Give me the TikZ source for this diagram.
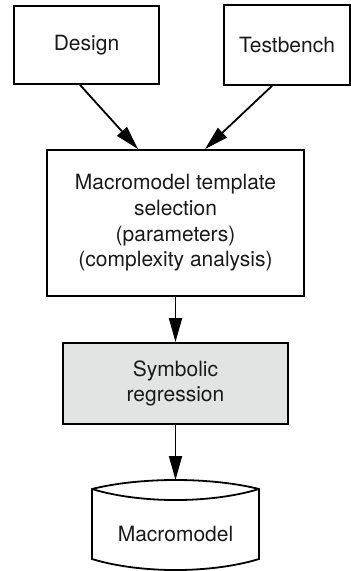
\documentclass[tikz,border=0pt]{standalone}
\usepackage{fontspec}
\setmainfont{TeX Gyre Heros}
\usetikzlibrary{arrows.meta}
\definecolor{procfill}{HTML}{E2E4E4}
\definecolor{ink}{HTML}{1A1A1A}
\tikzset{
  box/.style={draw=black, line width=1.8pt, align=center, inner sep=0pt, text=ink},
  flow/.style={line width=1.8pt, -{Triangle[length=24pt,width=13pt]}},
  store/.style={draw=black, line width=1.8pt}
}
\begin{document}
\begin{tikzpicture}[x=1pt, y=-1pt, font=\fontsize{21}{25.7}\selectfont]
\useasboundingbox (0,0) rectangle (351,571);

% inputs
\node[box, minimum width=145pt, minimum height=78pt] (d) at (86.5,45) {Design};
\node[box, minimum width=126pt, minimum height=80pt] (tb) at (287,45) {Testbench};

% template selection
\node[box, minimum width=257pt, minimum height=146pt] (t) at (175.5,223)
  {Macromodel template\\selection\\(parameters)\\(complexity analysis)};

% regression step
\node[box, fill=procfill, minimum width=225pt, minimum height=81pt] (s) at (175.5,383.5)
  {Symbolic\\regression};

% output store
\node[text=ink, inner sep=0pt] (mm) at (175.5,533.5) {Macromodel};
\coordinate (mmtop) at (175.5,480);
\draw[store] (92,489) .. controls (140,477) and (211,477) .. (259,489)
  -- (259,559) .. controls (211,573.7) and (140,573.7) .. (92,559) -- cycle;
\draw[store] (92,489) .. controls (140,503.7) and (211,503.7) .. (259,489);

% connectors
\draw[flow] ([xshift=-6.5pt]d.south) -- ([xshift=-37.5pt]t.north);
\draw[flow] ([xshift=-15pt]tb.south) -- ([xshift=29.5pt]t.north);
\draw[flow] (t.south) -- (s.north);
\draw[flow] (s.south) -- (mmtop);
\end{tikzpicture}
\end{document}
